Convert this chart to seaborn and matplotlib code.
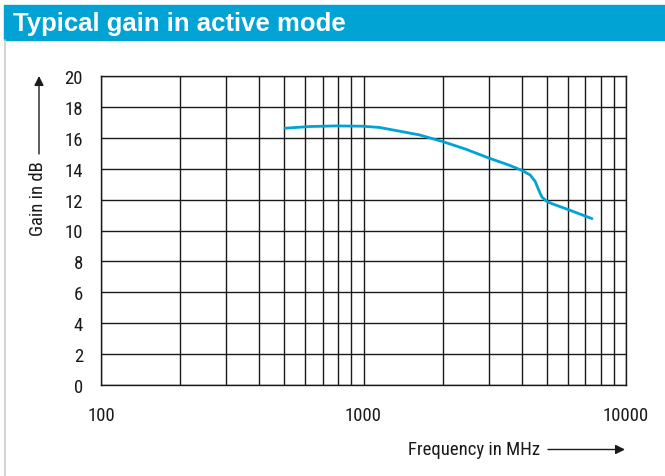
import pandas as pd
import seaborn as sns
import matplotlib.pyplot as plt
from matplotlib.patches import Rectangle
from matplotlib.lines import Line2D

# datos
freq_mhz = [502, 624, 788, 994, 1150, 1330, 1630, 1998, 2448, 3001, 3573, 4013,
            4316, 4508, 4642, 4779, 4993, 5214, 6031, 7420]
gain_db = [16.62, 16.73, 16.77, 16.75, 16.67, 16.47, 16.19, 15.76, 15.27, 14.69,
           14.24, 13.89, 13.59, 13.18, 12.65, 12.17, 11.89, 11.74, 11.35, 10.77]
x_major = [100, 1000, 10000]
x_minor = [200, 300, 400, 500, 600, 700, 800, 900,
           2000, 3000, 4000, 5000, 6000, 7000, 8000, 9000]
y_ticks = list(range(0, 21, 2))

blue = '#00a3d4'
ink = '#1a1a1a'
W, H = 665, 477

sns.set_style('white')
plt.rcParams['font.family'] = ['Roboto Condensed', 'DejaVu Sans']

df = pd.DataFrame({'freq': freq_mhz, 'gain': gain_db})

fig = plt.figure(figsize=(W / 100, H / 100), dpi=100)
ax = fig.add_axes([101 / W, 1 - 386 / H, 525 / W, 309 / H])

sns.lineplot(data=df, x='freq', y='gain', ax=ax, color=blue, linewidth=2.0)

ax.set_xscale('log')
ax.set_xlim(100, 10000)
ax.set_ylim(0, 20)
ax.set_xticks(x_major)
ax.set_xticks(x_minor, minor=True)
ax.set_xticklabels([str(v) for v in x_major])
ax.xaxis.set_minor_formatter(plt.NullFormatter())
ax.set_yticks(y_ticks)
ax.grid(True, which='both', color=ink, linewidth=1.0)
ax.tick_params(axis='both', which='major', direction='out', length=6, width=1.0,
               color=ink, labelsize=13.5, pad=7, labelcolor=ink)
ax.tick_params(axis='x', which='minor', length=0)
ax.tick_params(axis='x', pad=9)
for s in ax.spines.values():
    s.set_color(ink)
    s.set_linewidth(1.0)
ax.set_xlabel('')
ax.set_ylabel('')

# barra de titulo
fig.patches.append(Rectangle((4 / W, 1 - 41 / H), 1 - 4 / W, 35 / H,
                             transform=fig.transFigure, color=blue, zorder=0))
fig.text(13 / W, 1 - 31.5 / H, 'Typical gain in active mode', color='white',
         fontsize=18.5, fontweight='bold', va='baseline', ha='left',
         family=['Liberation Sans', 'DejaVu Sans'])
fig.lines.append(Line2D([4.5 / W, 4.5 / W], [0, 1 - 41 / H], transform=fig.transFigure,
                        color='#cccccc', linewidth=1.2))

# etiquetas de ejes con flechas
fig.text(38 / W, 1 - 199 / H, 'Gain in dB', rotation=90, fontsize=13.5,
         ha='center', va='center', color=ink)
fig.add_artist(plt.Annotation('', xy=(39 / W, 1 - 77 / H), xytext=(39 / W, 1 - 155 / H),
                              xycoords='figure fraction', textcoords='figure fraction',
                              arrowprops=dict(arrowstyle='-|>', color=ink, lw=1.0,
                                              mutation_scale=14, shrinkA=0, shrinkB=0)))
fig.text(474 / W, 1 - 450 / H, 'Frequency in MHz', fontsize=13.5,
         ha='center', va='center', color=ink)
fig.add_artist(plt.Annotation('', xy=(625 / W, 1 - 450.5 / H), xytext=(548 / W, 1 - 450.5 / H),
                              xycoords='figure fraction', textcoords='figure fraction',
                              arrowprops=dict(arrowstyle='-|>', color=ink, lw=1.0,
                                              mutation_scale=14, shrinkA=0, shrinkB=0)))

fig.savefig('out.png', dpi=100)
